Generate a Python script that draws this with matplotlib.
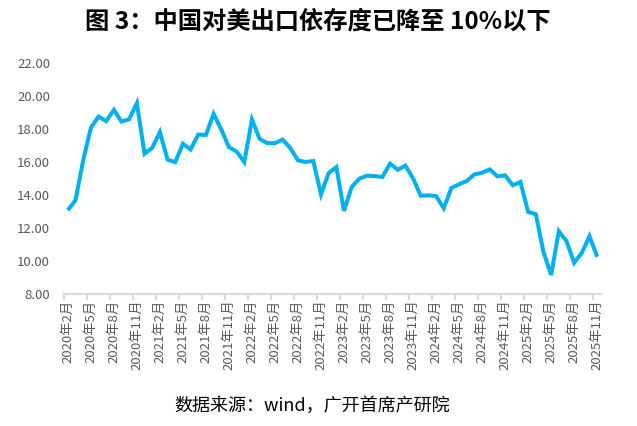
import matplotlib
matplotlib.use("Agg")
import matplotlib.pyplot as plt

plt.rcParams['font.family'] = ['Noto Sans CJK SC', 'DejaVu Sans']

title = "图 3：中国对美出口依存度已降至 10%以下"
source = "数据来源：wind，广开首席产研院"

# monthly values, 2020年2月 .. 2025年11月 (70 months)
values = [
    13.07, 13.67, 16.09, 18.06, 18.74, 18.46, 19.14, 18.44, 18.58, 19.55,
    16.49, 16.85, 17.80, 16.13, 15.98, 17.09, 16.75, 17.65, 17.63, 18.90,
    17.96, 16.89, 16.62, 15.99, 18.56, 17.39, 17.13, 17.13, 17.35, 16.83,
    16.09, 15.99, 16.05, 14.03, 15.32, 15.68, 13.03, 14.48, 14.98, 15.16,
    15.14, 15.08, 15.89, 15.52, 15.77, 15.00, 13.95, 13.97, 13.93, 13.19,
    14.42, 14.64, 14.84, 15.24, 15.34, 15.54, 15.12, 15.18, 14.58, 14.78,
    12.97, 12.83, 10.55, 9.15, 11.80, 11.20, 9.89, 10.49, 11.50, 10.25,
]

tick_labels = [
    "2020年2月", "2020年5月", "2020年8月", "2020年11月",
    "2021年2月", "2021年5月", "2021年8月", "2021年11月",
    "2022年2月", "2022年5月", "2022年8月", "2022年11月",
    "2023年2月", "2023年5月", "2023年8月", "2023年11月",
    "2024年2月", "2024年5月", "2024年8月", "2024年11月",
    "2025年2月", "2025年5月", "2025年8月", "2025年11月",
]
label_step = 3
y_ticks = [8, 10, 12, 14, 16, 18, 20, 22]

fig = plt.figure(figsize=(6.37, 4.26), dpi=100)
ax = fig.add_axes([64/637, (426-294)/426, (601-64)/637, (294-62.7)/426])

x = list(range(len(values)))
ax.plot(x, values, color="#00B0F0", lw=2.9, solid_joinstyle="miter", solid_capstyle="butt")

ax.set_xlim(-0.5, len(values) - 0.5)
ax.set_ylim(8, 22)
ax.set_yticks(y_ticks)
ax.set_yticklabels([f"{v:.2f}" for v in y_ticks])

# major ticks at category boundaries, labels at category centres
major = [i - 0.5 for i in range(0, len(values), label_step)]
minor = list(range(0, len(values), label_step))
ax.set_xticks(major)
ax.set_xticklabels([""] * len(major))
ax.set_xticks(minor, minor=True)
ax.set_xticklabels(tick_labels, minor=True, rotation=90, fontsize=9.5, color="#595959")
ax.tick_params(axis="x", which="major", length=4, width=1.5, color="#d9d9d9", direction="out")
ax.tick_params(axis="x", which="minor", length=0, pad=4)
ax.tick_params(axis="y", length=0, labelsize=9.5, labelcolor="#595959", pad=10)

for s in ("top", "right", "left"):
    ax.spines[s].set_visible(False)
ax.spines["bottom"].set_color("#d9d9d9")
ax.spines["bottom"].set_linewidth(1.5)

fig.text(318/637, 1 - 22/426, title, ha="center", va="center", fontsize=17.5, fontweight="bold", color="black")
fig.text(312/637, 1 - 406/426, source, ha="center", va="center", fontsize=13, color="black")

fig.savefig("out.png", dpi=100)
